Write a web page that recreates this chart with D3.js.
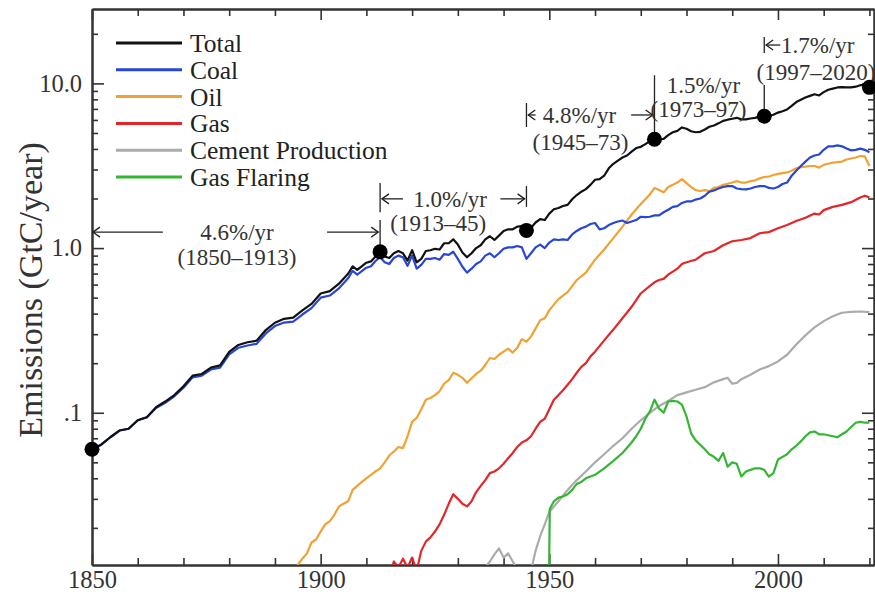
<!DOCTYPE html>
<html>
<head>
<meta charset="utf-8">
<script src="https://cdn.jsdelivr.net/npm/d3@7"></script>
<style>
body{margin:0;background:#fff}
svg text{font-family:'Liberation Serif','Tinos','Times New Roman','DejaVu Serif',serif}
</style>
</head>
<body>
<svg id="chart" width="875" height="600"></svg>
<script>
// emissions, GtC/year
let total = [[1850,0.060],[1852,0.064],[1854,0.071],[1856,0.078],[1858,0.080],[1860,0.090],[1862,0.094],[1864,0.108],[1866,0.117],[1868,0.128],[1870,0.145],[1872,0.168],[1874,0.172],[1876,0.188],[1878,0.194],[1880,0.234],[1882,0.258],[1884,0.268],[1886,0.274],[1888,0.318],[1890,0.352],[1892,0.372],[1894,0.378],[1896,0.418],[1898,0.458],[1900,0.530],[1902,0.548],[1904,0.608],[1906,0.698],[1907,0.775],[1908,0.738],[1910,0.815],[1911,0.83],[1912,0.89],[1913,0.95],[1914,0.89],[1915,0.87],[1916,0.93],[1917,0.96],[1918,0.93],[1919,0.84],[1920,0.97],[1921,0.82],[1922,0.86],[1923,0.96],[1924,0.97],[1925,0.99],[1926,0.98],[1927,1.07],[1928,1.07],[1929,1.13],[1930,1.05],[1931,0.94],[1932,0.88],[1933,0.93],[1934,1.00],[1935,1.04],[1936,1.13],[1937,1.18],[1938,1.12],[1939,1.19],[1940,1.27],[1941,1.30],[1942,1.30],[1943,1.35],[1944,1.36],[1945,1.27],[1946,1.33],[1947,1.43],[1948,1.50],[1949,1.48],[1950,1.62],[1951,1.72],[1952,1.75],[1953,1.80],[1954,1.83],[1955,1.98],[1956,2.10],[1957,2.20],[1958,2.28],[1959,2.42],[1960,2.60],[1961,2.62],[1962,2.75],[1963,3.05],[1964,3.25],[1965,3.40],[1966,3.55],[1967,3.65],[1968,3.85],[1969,4.05],[1970,4.12],[1971,4.28],[1972,4.45],[1973,4.58],[1974,4.58],[1975,4.60],[1976,4.85],[1977,5.05],[1978,5.15],[1979,5.40],[1980,5.30],[1981,5.12],[1982,5.05],[1983,5.08],[1984,5.25],[1985,5.45],[1986,5.55],[1987,5.72],[1988,5.92],[1989,6.02],[1990,6.10],[1991,6.18],[1992,6.05],[1993,6.05],[1994,6.12],[1995,6.18],[1996,6.28],[1997,6.32],[1998,6.35],[1999,6.45],[2000,6.65],[2001,6.78],[2002,6.95],[2003,7.30],[2004,7.70],[2005,7.95],[2006,8.20],[2007,8.40],[2008,8.60],[2009,8.45],[2010,8.85],[2011,9.15],[2012,9.30],[2013,9.45],[2014,9.50],[2015,9.45],[2016,9.45],[2017,9.55],[2018,9.75],[2019,9.80],[2020,9.46]];

let coal = [[1850,0.060],[1852,0.064],[1854,0.071],[1856,0.078],[1858,0.080],[1860,0.090],[1862,0.094],[1864,0.107],[1866,0.115],[1868,0.126],[1870,0.142],[1872,0.164],[1874,0.168],[1876,0.183],[1878,0.188],[1880,0.226],[1882,0.248],[1884,0.256],[1886,0.262],[1888,0.303],[1890,0.336],[1892,0.353],[1894,0.358],[1896,0.395],[1898,0.432],[1900,0.500],[1902,0.515],[1904,0.570],[1906,0.655],[1907,0.728],[1908,0.690],[1910,0.760],[1911,0.775],[1912,0.835],[1913,0.88],[1914,0.82],[1915,0.80],[1916,0.87],[1917,0.90],[1918,0.88],[1919,0.78],[1920,0.90],[1921,0.75],[1922,0.79],[1923,0.86],[1924,0.86],[1925,0.87],[1926,0.85],[1927,0.92],[1928,0.91],[1929,0.95],[1930,0.86],[1931,0.77],[1932,0.71],[1933,0.75],[1934,0.80],[1935,0.83],[1936,0.90],[1937,0.93],[1938,0.88],[1939,0.93],[1940,0.99],[1941,1.01],[1942,1.01],[1943,1.03],[1944,1.01],[1945,0.86],[1946,0.93],[1947,1.01],[1948,1.05],[1949,1.00],[1950,1.08],[1951,1.13],[1952,1.12],[1953,1.13],[1954,1.12],[1955,1.21],[1956,1.27],[1957,1.32],[1958,1.35],[1959,1.40],[1960,1.42],[1961,1.30],[1962,1.32],[1963,1.38],[1964,1.42],[1965,1.45],[1966,1.47],[1967,1.42],[1968,1.45],[1969,1.48],[1970,1.55],[1971,1.54],[1972,1.55],[1973,1.58],[1974,1.58],[1975,1.65],[1976,1.71],[1977,1.78],[1978,1.80],[1979,1.88],[1980,1.92],[1981,1.92],[1982,1.97],[1983,2.00],[1984,2.08],[1985,2.20],[1986,2.24],[1987,2.30],[1988,2.35],[1989,2.38],[1990,2.38],[1991,2.30],[1992,2.28],[1993,2.27],[1994,2.30],[1995,2.35],[1996,2.38],[1997,2.38],[1998,2.32],[1999,2.30],[2000,2.35],[2001,2.45],[2002,2.50],[2003,2.75],[2004,2.95],[2005,3.15],[2006,3.35],[2007,3.55],[2008,3.65],[2009,3.70],[2010,3.95],[2011,4.15],[2012,4.15],[2013,4.20],[2014,4.15],[2015,4.02],[2016,3.92],[2017,3.95],[2018,4.02],[2019,3.95],[2020,3.82]];

let oil = [[1894,0.0105],[1895,0.0119],[1896,0.013],[1897,0.014],[1898,0.0163],[1899,0.017],[1900,0.019],[1901,0.021],[1902,0.022],[1903,0.024],[1904,0.027],[1905,0.028],[1906,0.029],[1907,0.034],[1908,0.036],[1909,0.038],[1910,0.040],[1911,0.042],[1912,0.044],[1913,0.046],[1914,0.050],[1915,0.055],[1916,0.058],[1917,0.062],[1918,0.061],[1919,0.072],[1920,0.088],[1921,0.093],[1922,0.105],[1923,0.120],[1924,0.123],[1925,0.128],[1926,0.135],[1927,0.150],[1928,0.158],[1929,0.175],[1930,0.170],[1931,0.163],[1932,0.152],[1933,0.162],[1934,0.172],[1935,0.180],[1936,0.195],[1937,0.215],[1938,0.212],[1939,0.225],[1940,0.235],[1941,0.245],[1942,0.232],[1943,0.248],[1944,0.280],[1945,0.270],[1946,0.290],[1947,0.325],[1948,0.365],[1949,0.375],[1950,0.42],[1952,0.49],[1954,0.54],[1956,0.64],[1958,0.71],[1960,0.85],[1962,0.98],[1964,1.15],[1966,1.35],[1968,1.60],[1970,1.85],[1971,1.98],[1972,2.12],[1973,2.32],[1974,2.25],[1975,2.18],[1976,2.35],[1977,2.42],[1978,2.50],[1979,2.62],[1980,2.48],[1981,2.35],[1982,2.25],[1983,2.22],[1984,2.25],[1985,2.22],[1986,2.32],[1987,2.35],[1988,2.42],[1989,2.46],[1990,2.50],[1991,2.55],[1992,2.50],[1993,2.50],[1994,2.55],[1995,2.58],[1996,2.65],[1997,2.70],[1998,2.72],[1999,2.78],[2000,2.82],[2001,2.85],[2002,2.88],[2003,2.95],[2004,3.05],[2005,3.10],[2006,3.12],[2007,3.15],[2008,3.15],[2009,3.08],[2010,3.20],[2011,3.25],[2012,3.30],[2013,3.33],[2014,3.35],[2015,3.45],[2016,3.50],[2017,3.55],[2018,3.62],[2019,3.60],[2020,3.15]];

let gas = [[1915,0.010],[1916,0.0125],[1917,0.0115],[1918,0.013],[1919,0.0115],[1920,0.0132],[1921,0.011],[1922,0.0145],[1923,0.0165],[1924,0.0175],[1925,0.019],[1926,0.021],[1927,0.024],[1928,0.028],[1929,0.032],[1930,0.030],[1931,0.028],[1932,0.027],[1933,0.029],[1934,0.033],[1935,0.036],[1936,0.039],[1937,0.043],[1938,0.044],[1939,0.046],[1940,0.049],[1941,0.053],[1942,0.057],[1943,0.062],[1944,0.066],[1945,0.068],[1946,0.072],[1947,0.080],[1948,0.088],[1949,0.092],[1950,0.105],[1951,0.120],[1952,0.128],[1953,0.137],[1954,0.148],[1955,0.160],[1956,0.175],[1957,0.190],[1958,0.200],[1959,0.220],[1960,0.235],[1962,0.275],[1964,0.320],[1966,0.375],[1968,0.440],[1970,0.530],[1972,0.590],[1973,0.620],[1974,0.640],[1975,0.650],[1976,0.690],[1977,0.720],[1978,0.750],[1979,0.800],[1980,0.820],[1982,0.850],[1984,0.930],[1986,0.960],[1988,1.040],[1990,1.100],[1992,1.120],[1994,1.150],[1996,1.230],[1998,1.250],[2000,1.320],[2002,1.380],[2004,1.460],[2006,1.530],[2008,1.620],[2009,1.600],[2010,1.700],[2012,1.780],[2014,1.830],[2016,1.900],[2018,2.030],[2019,2.080],[2020,2.030]];

let cement = [[1935,0.009],[1936,0.0115],[1937,0.0125],[1938,0.0138],[1939,0.015],[1940,0.0132],[1941,0.014],[1942,0.0125],[1943,0.0112],[1944,0.010],[1945,0.009],[1946,0.011],[1947,0.0145],[1948,0.0178],[1949,0.021],[1950,0.025],[1952,0.029],[1954,0.034],[1956,0.039],[1958,0.044],[1960,0.050],[1962,0.056],[1964,0.063],[1966,0.070],[1968,0.080],[1970,0.090],[1972,0.100],[1974,0.110],[1976,0.118],[1978,0.128],[1980,0.133],[1982,0.138],[1984,0.143],[1986,0.153],[1988,0.160],[1989,0.163],[1990,0.150],[1991,0.152],[1992,0.160],[1994,0.170],[1996,0.183],[1998,0.192],[2000,0.205],[2002,0.225],[2004,0.260],[2006,0.295],[2008,0.330],[2010,0.360],[2012,0.385],[2014,0.405],[2016,0.410],[2018,0.412],[2020,0.408]];

let flaring = [[1949.9,0.008],[1950.1,0.026],[1951,0.029],[1952,0.0305],[1953,0.031],[1954,0.032],[1955,0.034],[1956,0.037],[1957,0.038],[1958,0.040],[1959,0.041],[1960,0.042],[1962,0.046],[1964,0.051],[1966,0.057],[1968,0.066],[1969,0.072],[1970,0.080],[1971,0.092],[1972,0.102],[1973,0.120],[1974,0.106],[1975,0.100],[1976,0.117],[1977,0.118],[1978,0.117],[1979,0.112],[1980,0.095],[1981,0.075],[1982,0.068],[1983,0.064],[1984,0.060],[1985,0.056],[1986,0.054],[1987,0.051],[1988,0.057],[1989,0.047],[1990,0.050],[1991,0.049],[1992,0.041],[1993,0.044],[1994,0.045],[1995,0.046],[1996,0.046],[1997,0.045],[1998,0.041],[1999,0.043],[2000,0.052],[2001,0.054],[2002,0.056],[2003,0.060],[2004,0.063],[2005,0.067],[2006,0.072],[2007,0.076],[2008,0.077],[2009,0.074],[2010,0.074],[2011,0.073],[2012,0.072],[2013,0.071],[2014,0.074],[2015,0.077],[2016,0.082],[2017,0.087],[2018,0.088],[2019,0.087],[2020,0.087]];

let seriesNames = ['Total','Coal','Oil','Gas','Cement Production','Gas Flaring'];
let seriesColors = ['#111111','#2746d6','#f0a234','#e3262a','#ababab','#36b535'];
let seriesData = [total, coal, oil, gas, cement, flaring];

// break points of the total and the growth rates between them
let dots = [[1850,0.060],[1913,0.95],[1945,1.28],[1973,4.58],[1997,6.32],[2020,9.46]];
let rateText = ['4.6%/yr','1.0%/yr','4.8%/yr','1.5%/yr','1.7%/yr'];
let spanText = ['(1850\u20131913)','(1913\u201345)','(1945\u201373)','(1973\u201397)','(1997\u20132020)'];
let rateX = [1881.7, 1928.3, 1956.6, 1983.7, 2008.7];
let spanX = [1881.7, 1925.7, 1956.8, 1982.6, 2008.3];
let rateY = [1.25, 1.99, 6.43, 9.8, 17.1];
let spanY = [0.88, 1.42, 4.40, 7.0, 11.7];
// arrows [from year, to year (head), level]
let arrows = [[1865.5,1850.2,1.25],[1901.4,1912.6,1.25],[1918,1913.4,1.99],[1939.3,1944.6,1.99],[1947,1945.4,6.43],[1967.9,1972.6,6.43],[2000.5,1997.4,17.1]];
// bars [year, top level, bottom level]
let bars = [[1913,2.48,1.65],[1913,1.48,0.95],[1945,2.38,1.78],[1945,7.6,5.43],[1973,11.2,4.86],[1997,9.78,6.89],[1997,19.1,15.3]];

let yMajor = [0.1, 1, 10];
let yMajorLabels = ['.1','1.0','10.0'];

let serif = "'Liberation Serif','Tinos','Times New Roman','DejaVu Serif',serif";
let svg = d3.select('#chart');
let x = d3.scaleLinear().domain([1850, 2021]).range([92, 874]);
let y = d3.scaleLog().domain([0.0119, 28.3]).range([565, 9]);

svg.append('clipPath').attr('id','clip')
  .append('rect').attr('x',92).attr('y',9).attr('width',782).attr('height',556);

// axes, ticks inward on all four sides
let yMinor = [];
for(let p of [0.01, 0.1, 1, 10]){
  for(let k=2;k<10;k++){
    let v = k*p;
    if(v>=y.domain()[0] && v<=y.domain()[1]) yMinor.push(v);
  }
}
let xMinor = d3.range(1850, 2021, 10).filter(d=>d%50!==0);
let xMajor = [1850, 1900, 1950, 2000];
let axisColor = '#333';

function styleAxis(g){
  g.attr('font-family', serif);
  g.select('.domain').attr('stroke', axisColor).attr('stroke-width', 2);
  g.selectAll('.tick line').attr('stroke', axisColor).attr('stroke-width', 1.6);
  g.selectAll('.tick text').attr('fill', '#333').attr('font-size', 24.5).attr('font-family', serif);
}

svg.append('g').attr('transform','translate(0,565)')
  .call(d3.axisBottom(x).tickValues(xMinor).tickSize(-7).tickSizeOuter(0).tickFormat(''))
  .call(styleAxis);
svg.append('g').attr('transform','translate(0,565)')
  .call(d3.axisBottom(x).tickValues(xMajor).tickSize(-11).tickSizeOuter(0).tickPadding(6).tickFormat(d3.format('d')))
  .call(styleAxis);
svg.append('g').attr('transform','translate(0,9)')
  .call(d3.axisTop(x).tickValues(xMinor).tickSize(-7).tickSizeOuter(0).tickFormat(''))
  .call(styleAxis);
svg.append('g').attr('transform','translate(0,9)')
  .call(d3.axisTop(x).tickValues(xMajor).tickSize(-11).tickSizeOuter(0).tickFormat(''))
  .call(styleAxis);

svg.append('g').attr('transform','translate(92,0)')
  .call(d3.axisLeft(y).tickValues(yMinor).tickSize(-6).tickSizeOuter(0).tickFormat(''))
  .call(styleAxis);
svg.append('g').attr('transform','translate(92,0)')
  .call(d3.axisLeft(y).tickValues(yMajor).tickSize(-12).tickSizeOuter(0).tickPadding(10)
    .tickFormat((d,i)=>yMajorLabels[i]))
  .call(styleAxis);
svg.append('g').attr('transform','translate(874,0)')
  .call(d3.axisRight(y).tickValues(yMinor).tickSize(-6).tickSizeOuter(0).tickFormat(''))
  .call(styleAxis);
svg.append('g').attr('transform','translate(874,0)')
  .call(d3.axisRight(y).tickValues(yMajor).tickSize(-12).tickSizeOuter(0).tickFormat(''))
  .call(styleAxis);

svg.append('text')
  .attr('transform','translate(30,290) rotate(-90)')
  .attr('text-anchor','middle').attr('dy','0.35em')
  .attr('fill','#333').attr('font-size',34).attr('font-family',serif)
  .text('Emissions (GtC/year)');

// series lines, drawn back to front
let line = d3.line().x(d=>x(d[0])).y(d=>y(d[1]));
let plot = svg.append('g').attr('clip-path','url(#clip)');
let order = [4,5,3,2,1,0];
for(let i of order){
  plot.append('path')
    .datum(seriesData[i])
    .attr('d', line)
    .attr('fill','none')
    .attr('stroke', seriesColors[i])
    .attr('stroke-width', 2.2)
    .attr('stroke-linejoin','round');
}

// legend
let legend = svg.append('g').attr('font-family', serif);
seriesNames.forEach((name,i)=>{
  let ly = 43 + i*26.8;
  legend.append('line').attr('x1',116).attr('x2',182).attr('y1',ly).attr('y2',ly)
    .attr('stroke', seriesColors[i]).attr('stroke-width',3);
  legend.append('text').attr('x',190).attr('y',ly).attr('dy','0.35em')
    .attr('fill','#222').attr('font-size',25.5).text(name);
});

// annotations
let ann = svg.append('g').attr('stroke','#222').attr('stroke-width',1.3).attr('fill','none');
for(let b of bars){
  ann.append('line').attr('x1',x(b[0])).attr('x2',x(b[0])).attr('y1',y(b[1])).attr('y2',y(b[2]));
}
for(let a of arrows){
  let x1 = x(a[0]), x2 = x(a[1]), yy = y(a[2]);
  let dir = x2 > x1 ? 1 : -1;
  ann.append('line').attr('x1',x1).attr('x2',x2).attr('y1',yy).attr('y2',yy);
  ann.append('path').attr('d',`M${x2-dir*7},${yy-5}L${x2},${yy}L${x2-dir*7},${yy+5}`);
}
let txt = svg.append('g').attr('fill','#333').attr('font-size',23).attr('font-family',serif).attr('text-anchor','middle');
rateText.forEach((t,i)=>{
  txt.append('text').attr('x',x(rateX[i])).attr('y',y(rateY[i])).attr('dy','0.35em').text(t);
  txt.append('text').attr('x',x(spanX[i])).attr('y',y(spanY[i])).attr('dy','0.35em').text(spanText[i]);
});

svg.append('g').selectAll('circle').data(dots).join('circle')
  .attr('cx', d=>x(d[0])).attr('cy', d=>y(d[1])).attr('r', 7.5).attr('fill','#000');
</script>
</body>
</html>
